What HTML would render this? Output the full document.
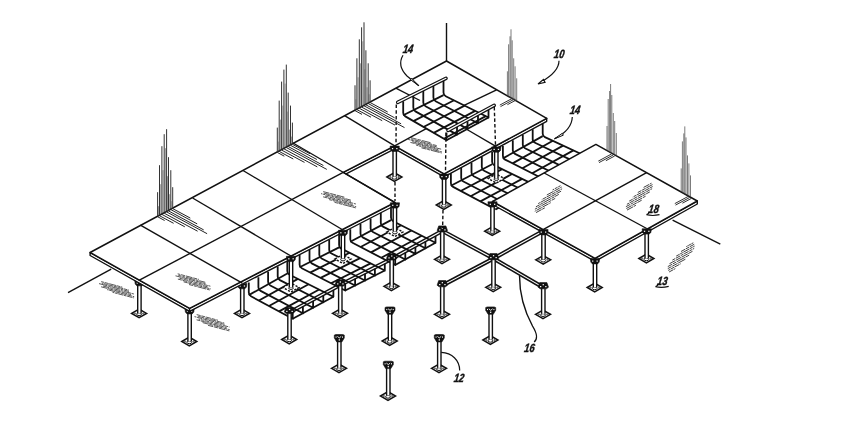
<!DOCTYPE html>
<html><head><meta charset="utf-8"><title>Fig</title><style>html,body{margin:0;padding:0;background:#fff}svg{display:block}svg{filter:grayscale(1)}</style></head><body>
<svg width="850" height="438" viewBox="0 0 850 438">
<rect width="850" height="438" fill="#fff"/>
<line x1="68" y1="292.6" x2="111.2" y2="269.1" stroke="#111" stroke-width="1.4"/>
<line x1="672.6" y1="220.2" x2="720.3" y2="244.2" stroke="#111" stroke-width="1.4"/>
<line x1="446.5" y1="23" x2="446.5" y2="61" stroke="#111" stroke-width="1.4"/>
<line x1="101.2" y1="281.6" x2="122.4" y2="287.2" stroke="#111" stroke-width="0.7" stroke-dasharray="7 0.6 4 0.6" stroke-dashoffset="3.9"/>
<line x1="101.8" y1="283.1" x2="128.8" y2="290.1" stroke="#111" stroke-width="0.7" stroke-dasharray="5 0.6 4 0.6" stroke-dashoffset="3.5"/>
<line x1="99" y1="283.6" x2="129" y2="291.4" stroke="#111" stroke-width="0.7" stroke-dasharray="9 0.6 3 0.6" stroke-dashoffset="0.5"/>
<line x1="103" y1="286" x2="133.9" y2="294" stroke="#111" stroke-width="0.7" stroke-dasharray="7 0.6 3 0.6" stroke-dashoffset="0.5"/>
<line x1="101.1" y1="286.8" x2="131.1" y2="294.6" stroke="#111" stroke-width="0.7" stroke-dasharray="7 0.6 6 0.6" stroke-dashoffset="0.7"/>
<line x1="107.1" y1="289.6" x2="134.2" y2="296.7" stroke="#111" stroke-width="0.7" stroke-dasharray="5 0.6 6 0.6" stroke-dashoffset="3.5"/>
<line x1="112.5" y1="292.3" x2="133.8" y2="297.9" stroke="#111" stroke-width="0.7" stroke-dasharray="5 0.6 3 0.6" stroke-dashoffset="3.3"/>
<line x1="196.7" y1="314.6" x2="217.9" y2="320.2" stroke="#111" stroke-width="0.7" stroke-dasharray="5 0.8 4 0.8" stroke-dashoffset="0.9"/>
<line x1="197.3" y1="316.1" x2="224.3" y2="323.1" stroke="#111" stroke-width="0.7" stroke-dasharray="5 0.8 6 0.8" stroke-dashoffset="4.9"/>
<line x1="194.5" y1="316.6" x2="224.5" y2="324.4" stroke="#111" stroke-width="0.7" stroke-dasharray="5 0.6 6 0.6" stroke-dashoffset="3.4"/>
<line x1="198.5" y1="319" x2="229.4" y2="327" stroke="#111" stroke-width="0.7" stroke-dasharray="5 0.8 3 0.8" stroke-dashoffset="3.3"/>
<line x1="196.6" y1="319.8" x2="226.6" y2="327.6" stroke="#111" stroke-width="0.7" stroke-dasharray="5 0.6 6 0.6" stroke-dashoffset="1.2"/>
<line x1="202.6" y1="322.6" x2="229.7" y2="329.7" stroke="#111" stroke-width="0.7" stroke-dasharray="9 0.8 4 0.8" stroke-dashoffset="2.8"/>
<line x1="208" y1="325.3" x2="229.3" y2="330.9" stroke="#111" stroke-width="0.7" stroke-dasharray="7 0.8 4 0.8" stroke-dashoffset="1.5"/>
<line x1="686.3" y1="246.6" x2="693.3" y2="242.8" stroke="#111" stroke-width="0.8" stroke-dasharray="5 0.6 3 0.6" stroke-dashoffset="3.4"/>
<line x1="681" y1="251.5" x2="694.2" y2="244.3" stroke="#111" stroke-width="0.8" stroke-dasharray="9 0.8 4 0.8" stroke-dashoffset="4.4"/>
<line x1="676.2" y1="256.1" x2="694.6" y2="246.1" stroke="#111" stroke-width="0.8" stroke-dasharray="7 0.6 3 0.6" stroke-dashoffset="3.1"/>
<line x1="672.2" y1="260.2" x2="694.2" y2="248.4" stroke="#111" stroke-width="0.8" stroke-dasharray="5 0.8 3 0.8" stroke-dashoffset="5.6"/>
<line x1="669.5" y1="263.7" x2="692.5" y2="251.3" stroke="#111" stroke-width="0.8" stroke-dasharray="7 0.6 6 0.6" stroke-dashoffset="0.5"/>
<line x1="667.8" y1="266.6" x2="689.8" y2="254.8" stroke="#111" stroke-width="0.8" stroke-dasharray="9 0.8 4 0.8" stroke-dashoffset="4.2"/>
<line x1="667.8" y1="268.6" x2="685.4" y2="259.2" stroke="#111" stroke-width="0.8" stroke-dasharray="9 0.8 6 0.8" stroke-dashoffset="4.8"/>
<line x1="668.2" y1="270.4" x2="680.6" y2="263.8" stroke="#111" stroke-width="0.8" stroke-dasharray="5 0.6 4 0.6" stroke-dashoffset="2.8"/>
<line x1="669.1" y1="272" x2="675.3" y2="268.6" stroke="#111" stroke-width="0.8" stroke-dasharray="9 0.6 3 0.6" stroke-dashoffset="4.4"/>
<polygon points="131.6,313.4 139.1,309.1 146.6,313.4 139.1,317.7" fill="#fff" stroke="#111" stroke-width="1.5"/>
<ellipse cx="139.1" cy="314.2" rx="2.4" ry="1.4" fill="#fff" stroke="#111" stroke-width="1"/>
<ellipse cx="134.9" cy="313.4" rx="0.8" ry="0.5" fill="#fff" stroke="#222" stroke-width="0.7"/>
<ellipse cx="143.3" cy="313.4" rx="0.8" ry="0.5" fill="#fff" stroke="#222" stroke-width="0.7"/>
<ellipse cx="139.1" cy="311" rx="0.8" ry="0.5" fill="#fff" stroke="#222" stroke-width="0.7"/>
<rect x="137.8" y="284.7" width="3.2" height="28.2" fill="#fff" stroke="none"/>
<line x1="137.7" y1="284.7" x2="137.7" y2="312.9" stroke="#111" stroke-width="1.4"/>
<line x1="141.1" y1="284.7" x2="141.1" y2="312.9" stroke="#111" stroke-width="1.4"/>
<polygon points="134.8,280.5 144,280.5 143.6,284 142,285.8 136.8,285.8 135.2,284" fill="#111" stroke="#111" stroke-width="0.6" stroke-linejoin="round"/>
<rect x="136.6" y="282.4" width="1.3" height="1.2" fill="#fff"/>
<rect x="140.8" y="282.4" width="1.3" height="1.2" fill="#fff"/>
<polygon points="181.8,341.5 189.3,337.2 196.8,341.5 189.3,345.8" fill="#fff" stroke="#111" stroke-width="1.5"/>
<ellipse cx="189.3" cy="342.3" rx="2.4" ry="1.4" fill="#fff" stroke="#111" stroke-width="1"/>
<ellipse cx="185.1" cy="341.5" rx="0.8" ry="0.5" fill="#fff" stroke="#222" stroke-width="0.7"/>
<ellipse cx="193.5" cy="341.5" rx="0.8" ry="0.5" fill="#fff" stroke="#222" stroke-width="0.7"/>
<ellipse cx="189.3" cy="339.1" rx="0.8" ry="0.5" fill="#fff" stroke="#222" stroke-width="0.7"/>
<rect x="188" y="312.8" width="3.2" height="28.2" fill="#fff" stroke="none"/>
<line x1="187.9" y1="312.8" x2="187.9" y2="341" stroke="#111" stroke-width="1.4"/>
<line x1="191.3" y1="312.8" x2="191.3" y2="341" stroke="#111" stroke-width="1.4"/>
<polygon points="185,308.6 194.2,308.6 193.8,312.1 192.2,313.9 187,313.9 185.4,312.1" fill="#111" stroke="#111" stroke-width="0.6" stroke-linejoin="round"/>
<rect x="186.8" y="310.5" width="1.3" height="1.2" fill="#fff"/>
<rect x="191" y="310.5" width="1.3" height="1.2" fill="#fff"/>
<polygon points="234.5,313.4 242,309.1 249.5,313.4 242,317.7" fill="#fff" stroke="#111" stroke-width="1.5"/>
<ellipse cx="242" cy="314.2" rx="2.4" ry="1.4" fill="#fff" stroke="#111" stroke-width="1"/>
<ellipse cx="237.8" cy="313.4" rx="0.8" ry="0.5" fill="#fff" stroke="#222" stroke-width="0.7"/>
<ellipse cx="246.2" cy="313.4" rx="0.8" ry="0.5" fill="#fff" stroke="#222" stroke-width="0.7"/>
<ellipse cx="242" cy="311" rx="0.8" ry="0.5" fill="#fff" stroke="#222" stroke-width="0.7"/>
<rect x="240.7" y="287.7" width="3.2" height="25.2" fill="#fff" stroke="none"/>
<line x1="240.6" y1="287.7" x2="240.6" y2="312.9" stroke="#111" stroke-width="1.4"/>
<line x1="244" y1="287.7" x2="244" y2="312.9" stroke="#111" stroke-width="1.4"/>
<polygon points="237.7,283.5 246.9,283.5 246.5,287 244.9,288.8 239.7,288.8 238.1,287" fill="#111" stroke="#111" stroke-width="0.6" stroke-linejoin="round"/>
<rect x="239.5" y="285.4" width="1.3" height="1.2" fill="#fff"/>
<rect x="243.8" y="285.4" width="1.3" height="1.2" fill="#fff"/>
<polygon points="90.1,252.5 189.6,308.3 189.6,311.3 90.1,255.5" fill="#fff" stroke="#111" stroke-width="1.4" stroke-linejoin="round"/>
<polygon points="189.6,308.3 394.9,202.5 394.9,205.5 189.6,311.3" fill="#fff" stroke="#111" stroke-width="1.4" stroke-linejoin="round"/>
<polygon points="343.2,172.3 394.7,145.8 394.7,148.8 343.2,175.3" fill="#fff" stroke="#111" stroke-width="1.4" stroke-linejoin="round"/>
<polygon points="394.7,145.8 444.1,173.8 444.1,176.8 394.7,148.8" fill="#fff" stroke="#111" stroke-width="1.4" stroke-linejoin="round"/>
<polygon points="444.1,173.8 546.7,118.3 546.7,121.3 444.1,176.8" fill="#fff" stroke="#111" stroke-width="1.4" stroke-linejoin="round"/>
<polygon points="90.1,252.5 446.5,61 546.7,118.3 444.1,173.8 394.7,145.8 343.2,172.3 394.9,202.5 189.6,308.3" fill="#fff" stroke="#111" stroke-width="1.5" stroke-linejoin="round"/>
<line x1="139.4" y1="280.2" x2="343.2" y2="172.3" stroke="#111" stroke-width="1.4"/>
<line x1="394.7" y1="145.8" x2="428.5" y2="127.3" stroke="#111" stroke-width="1.4"/>
<line x1="462" y1="106.3" x2="496.6" y2="89.8" stroke="#111" stroke-width="1.4"/>
<line x1="140.4" y1="225.2" x2="242.3" y2="283.2" stroke="#111" stroke-width="1.4"/>
<line x1="192.6" y1="198" x2="291" y2="256" stroke="#111" stroke-width="1.4"/>
<line x1="243" y1="170.5" x2="343" y2="230" stroke="#111" stroke-width="1.4"/>
<line x1="293" y1="143" x2="394.9" y2="202.5" stroke="#111" stroke-width="1.4"/>
<line x1="344.6" y1="115.7" x2="394.7" y2="145.8" stroke="#111" stroke-width="1.4"/>
<line x1="395.8" y1="88.2" x2="420" y2="100.5" stroke="#111" stroke-width="1.4"/>
<line x1="467" y1="129.5" x2="496.3" y2="146.6" stroke="#111" stroke-width="1.4"/>
<line x1="177.7" y1="273.8" x2="198.9" y2="279.4" stroke="#111" stroke-width="0.7" stroke-dasharray="7 0.8 4 0.8" stroke-dashoffset="4.3"/>
<line x1="178.3" y1="275.3" x2="205.3" y2="282.3" stroke="#111" stroke-width="0.7" stroke-dasharray="9 0.8 3 0.8" stroke-dashoffset="5.6"/>
<line x1="175.5" y1="275.8" x2="205.5" y2="283.6" stroke="#111" stroke-width="0.7" stroke-dasharray="7 0.6 6 0.6" stroke-dashoffset="0.7"/>
<line x1="179.5" y1="278.2" x2="210.4" y2="286.2" stroke="#111" stroke-width="0.7" stroke-dasharray="5 0.6 4 0.6" stroke-dashoffset="0.8"/>
<line x1="177.6" y1="279" x2="207.6" y2="286.8" stroke="#111" stroke-width="0.7" stroke-dasharray="5 0.8 4 0.8" stroke-dashoffset="5.5"/>
<line x1="183.6" y1="281.8" x2="210.7" y2="288.9" stroke="#111" stroke-width="0.7" stroke-dasharray="7 0.6 3 0.6" stroke-dashoffset="2.7"/>
<line x1="189" y1="284.5" x2="210.3" y2="290.1" stroke="#111" stroke-width="0.7" stroke-dasharray="9 0.8 3 0.8" stroke-dashoffset="4.9"/>
<line x1="323.2" y1="191.6" x2="344.4" y2="197.2" stroke="#111" stroke-width="0.7" stroke-dasharray="9 0.8 6 0.8" stroke-dashoffset="2.5"/>
<line x1="323.8" y1="193.1" x2="350.8" y2="200.1" stroke="#111" stroke-width="0.7" stroke-dasharray="7 0.8 3 0.8" stroke-dashoffset="0.9"/>
<line x1="321" y1="193.6" x2="351" y2="201.4" stroke="#111" stroke-width="0.7" stroke-dasharray="5 0.6 3 0.6" stroke-dashoffset="4"/>
<line x1="325" y1="196" x2="355.9" y2="204" stroke="#111" stroke-width="0.7" stroke-dasharray="5 0.8 6 0.8" stroke-dashoffset="1.1"/>
<line x1="323.1" y1="196.8" x2="353.1" y2="204.6" stroke="#111" stroke-width="0.7" stroke-dasharray="7 0.6 3 0.6" stroke-dashoffset="2.5"/>
<line x1="329.1" y1="199.6" x2="356.2" y2="206.7" stroke="#111" stroke-width="0.7" stroke-dasharray="7 0.8 3 0.8" stroke-dashoffset="4.1"/>
<line x1="334.5" y1="202.3" x2="355.8" y2="207.9" stroke="#111" stroke-width="0.7" stroke-dasharray="9 0.6 4 0.6" stroke-dashoffset="5.4"/>
<line x1="410.3" y1="137.5" x2="430.5" y2="142.7" stroke="#111" stroke-width="0.7" stroke-dasharray="9 0.8 4 0.8" stroke-dashoffset="2.4"/>
<line x1="411" y1="138.9" x2="436.7" y2="145.6" stroke="#111" stroke-width="0.7" stroke-dasharray="5 0.8 6 0.8" stroke-dashoffset="2.4"/>
<line x1="408.2" y1="139.4" x2="436.7" y2="146.8" stroke="#111" stroke-width="0.7" stroke-dasharray="5 0.6 3 0.6" stroke-dashoffset="2.6"/>
<line x1="412.2" y1="141.7" x2="441.6" y2="149.3" stroke="#111" stroke-width="0.7" stroke-dasharray="5 0.8 6 0.8" stroke-dashoffset="0.3"/>
<line x1="410.4" y1="142.4" x2="438.9" y2="149.8" stroke="#111" stroke-width="0.7" stroke-dasharray="5 0.6 6 0.6" stroke-dashoffset="0.6"/>
<line x1="416.2" y1="145.2" x2="441.9" y2="151.9" stroke="#111" stroke-width="0.7" stroke-dasharray="7 0.6 3 0.6" stroke-dashoffset="5.2"/>
<line x1="421.4" y1="147.8" x2="441.7" y2="153" stroke="#111" stroke-width="0.7" stroke-dasharray="9 0.8 3 0.8" stroke-dashoffset="3.8"/>
<polygon points="386.9,177 394.4,172.7 401.9,177 394.4,181.3" fill="#fff" stroke="#111" stroke-width="1.5"/>
<ellipse cx="394.4" cy="177.8" rx="2.4" ry="1.4" fill="#fff" stroke="#111" stroke-width="1"/>
<ellipse cx="390.2" cy="177" rx="0.8" ry="0.5" fill="#fff" stroke="#222" stroke-width="0.7"/>
<ellipse cx="398.6" cy="177" rx="0.8" ry="0.5" fill="#fff" stroke="#222" stroke-width="0.7"/>
<ellipse cx="394.4" cy="174.6" rx="0.8" ry="0.5" fill="#fff" stroke="#222" stroke-width="0.7"/>
<rect x="393.1" y="150.3" width="3.2" height="26.2" fill="#fff" stroke="none"/>
<line x1="393" y1="150.3" x2="393" y2="176.5" stroke="#111" stroke-width="1.4"/>
<line x1="396.4" y1="150.3" x2="396.4" y2="176.5" stroke="#111" stroke-width="1.4"/>
<polygon points="390.1,146.1 399.3,146.1 398.9,149.6 397.3,151.4 392.1,151.4 390.5,149.6" fill="#111" stroke="#111" stroke-width="0.6" stroke-linejoin="round"/>
<rect x="391.9" y="148" width="1.3" height="1.2" fill="#fff"/>
<rect x="396.2" y="148" width="1.3" height="1.2" fill="#fff"/>
<polygon points="436.3,205 443.8,200.7 451.3,205 443.8,209.3" fill="#fff" stroke="#111" stroke-width="1.5"/>
<ellipse cx="443.8" cy="205.8" rx="2.4" ry="1.4" fill="#fff" stroke="#111" stroke-width="1"/>
<ellipse cx="439.6" cy="205" rx="0.8" ry="0.5" fill="#fff" stroke="#222" stroke-width="0.7"/>
<ellipse cx="448" cy="205" rx="0.8" ry="0.5" fill="#fff" stroke="#222" stroke-width="0.7"/>
<ellipse cx="443.8" cy="202.6" rx="0.8" ry="0.5" fill="#fff" stroke="#222" stroke-width="0.7"/>
<rect x="442.5" y="178.3" width="3.2" height="26.2" fill="#fff" stroke="none"/>
<line x1="442.4" y1="178.3" x2="442.4" y2="204.5" stroke="#111" stroke-width="1.4"/>
<line x1="445.8" y1="178.3" x2="445.8" y2="204.5" stroke="#111" stroke-width="1.4"/>
<polygon points="439.5,174.1 448.7,174.1 448.3,177.6 446.7,179.4 441.5,179.4 439.9,177.6" fill="#111" stroke="#111" stroke-width="0.6" stroke-linejoin="round"/>
<rect x="441.3" y="176" width="1.3" height="1.2" fill="#fff"/>
<rect x="445.6" y="176" width="1.3" height="1.2" fill="#fff"/>
<path d="M248.8,282.6 L248.8,292.6 Q248.8,295.1 251,296.3 L292.7,318.8 L292.7,312.1" fill="none" stroke="#111" stroke-width="1.8" stroke-linejoin="round"/>
<path d="M258.4,277.2 L258.4,287.2 Q258.4,289.7 260.6,290.9 L302.9,313.3 L302.9,306.6" fill="none" stroke="#111" stroke-width="1.8" stroke-linejoin="round"/>
<path d="M268.1,271.8 L268.1,281.8 Q268.1,284.3 270.3,285.5 L313.1,307.7 L313.1,301" fill="none" stroke="#111" stroke-width="1.8" stroke-linejoin="round"/>
<path d="M277.7,266.4 L277.7,276.4 Q277.7,278.9 279.9,280.1 L323.3,302.2 L323.3,295.5" fill="none" stroke="#111" stroke-width="1.8" stroke-linejoin="round"/>
<path d="M287.3,261 L287.3,271 Q287.3,273.5 289.6,274.7 L333.4,296.7 L333.4,290" fill="none" stroke="#111" stroke-width="1.8" stroke-linejoin="round"/>
<line x1="248.8" y1="295.1" x2="287.3" y2="273.5" stroke="#111" stroke-width="1.8"/>
<line x1="258.9" y1="300.5" x2="297.9" y2="278.9" stroke="#111" stroke-width="1.8"/>
<line x1="269" y1="306" x2="308.6" y2="284.2" stroke="#111" stroke-width="1.8"/>
<line x1="279.1" y1="311.4" x2="319.2" y2="289.5" stroke="#111" stroke-width="1.8"/>
<line x1="292.7" y1="318.8" x2="333.4" y2="296.7" stroke="#111" stroke-width="1.8"/>
<line x1="289.5" y1="310.8" x2="340.3" y2="283.3" stroke="#111" stroke-width="1.5"/>
<line x1="289.5" y1="313.8" x2="340.3" y2="286.3" stroke="#111" stroke-width="1.5"/>
<path d="M299.6,254.7 L299.6,264.7 Q299.6,267.2 301.8,268.3 L345.2,290.5 L345.2,283.8" fill="none" stroke="#111" stroke-width="1.8" stroke-linejoin="round"/>
<path d="M309.5,249.8 L309.5,259.8 Q309.5,262.3 311.7,263.4 L355.1,285.5 L355.1,278.8" fill="none" stroke="#111" stroke-width="1.8" stroke-linejoin="round"/>
<path d="M319.3,244.8 L319.3,254.8 Q319.3,257.3 321.6,258.5 L365,280.5 L365,273.8" fill="none" stroke="#111" stroke-width="1.8" stroke-linejoin="round"/>
<path d="M329.2,239.9 L329.2,249.9 Q329.2,252.4 331.5,253.5 L374.9,275.5 L374.9,268.8" fill="none" stroke="#111" stroke-width="1.8" stroke-linejoin="round"/>
<path d="M339.1,234.9 L339.1,244.9 Q339.1,247.4 341.3,248.6 L384.8,270.5 L384.8,263.8" fill="none" stroke="#111" stroke-width="1.8" stroke-linejoin="round"/>
<line x1="299.6" y1="267.2" x2="339.1" y2="247.4" stroke="#111" stroke-width="1.8"/>
<line x1="310.1" y1="272.6" x2="349.6" y2="252.8" stroke="#111" stroke-width="1.8"/>
<line x1="320.6" y1="277.9" x2="360.1" y2="258.1" stroke="#111" stroke-width="1.8"/>
<line x1="331" y1="283.3" x2="370.6" y2="263.4" stroke="#111" stroke-width="1.8"/>
<line x1="345.2" y1="290.5" x2="384.8" y2="270.5" stroke="#111" stroke-width="1.8"/>
<line x1="340.3" y1="283.3" x2="391.7" y2="257.3" stroke="#111" stroke-width="1.5"/>
<line x1="340.3" y1="286.3" x2="391.7" y2="260.3" stroke="#111" stroke-width="1.5"/>
<path d="M350.3,229.2 L350.3,239.2 Q350.3,241.7 352.5,242.8 L395.2,265 L395.2,258.3" fill="none" stroke="#111" stroke-width="1.8" stroke-linejoin="round"/>
<path d="M360.5,223.8 L360.5,233.8 Q360.5,236.3 362.7,237.4 L405.3,259.5 L405.3,252.8" fill="none" stroke="#111" stroke-width="1.8" stroke-linejoin="round"/>
<path d="M370.6,218.4 L370.6,228.4 Q370.6,230.9 372.9,232 L415.4,253.9 L415.4,247.2" fill="none" stroke="#111" stroke-width="1.8" stroke-linejoin="round"/>
<path d="M380.8,213 L380.8,223 Q380.8,225.5 383,226.6 L425.4,248.3 L425.4,241.6" fill="none" stroke="#111" stroke-width="1.8" stroke-linejoin="round"/>
<path d="M391,207.6 L391,217.6 Q391,220.1 393.2,221.2 L435.5,242.8 L435.5,236.1" fill="none" stroke="#111" stroke-width="1.8" stroke-linejoin="round"/>
<line x1="350.3" y1="241.7" x2="391" y2="220.1" stroke="#111" stroke-width="1.8"/>
<line x1="360.6" y1="247" x2="401.2" y2="225.3" stroke="#111" stroke-width="1.8"/>
<line x1="371" y1="252.4" x2="411.5" y2="230.5" stroke="#111" stroke-width="1.8"/>
<line x1="381.3" y1="257.8" x2="421.7" y2="235.7" stroke="#111" stroke-width="1.8"/>
<line x1="395.2" y1="265" x2="435.5" y2="242.8" stroke="#111" stroke-width="1.8"/>
<line x1="391.7" y1="257.3" x2="442.3" y2="229.3" stroke="#111" stroke-width="1.5"/>
<line x1="391.7" y1="260.3" x2="442.3" y2="232.3" stroke="#111" stroke-width="1.5"/>
<path d="M450.9,173.3 L450.9,183.3 Q450.9,185.8 453.1,186.9 L495.6,209.5" fill="none" stroke="#111" stroke-width="1.8" stroke-linejoin="round"/>
<path d="M461.2,167.9 L461.2,177.9 Q461.2,180.4 463.4,181.5 L506.1,203.7" fill="none" stroke="#111" stroke-width="1.8" stroke-linejoin="round"/>
<path d="M471.5,162.5 L471.5,172.5 Q471.5,175 473.7,176.2 L516.5,197.9" fill="none" stroke="#111" stroke-width="1.8" stroke-linejoin="round"/>
<path d="M481.8,157.1 L481.8,167.1 Q481.8,169.6 484.1,170.8 L527,192.2" fill="none" stroke="#111" stroke-width="1.8" stroke-linejoin="round"/>
<path d="M492.1,151.8 L492.1,161.8 Q492.1,164.3 494.4,165.4 L537.5,186.4" fill="none" stroke="#111" stroke-width="1.8" stroke-linejoin="round"/>
<line x1="450.9" y1="185.8" x2="492.1" y2="164.3" stroke="#111" stroke-width="1.8"/>
<line x1="460.7" y1="191" x2="502.1" y2="169.1" stroke="#111" stroke-width="1.8"/>
<line x1="470.6" y1="196.2" x2="512.1" y2="174" stroke="#111" stroke-width="1.8"/>
<line x1="480.4" y1="201.4" x2="522.1" y2="178.9" stroke="#111" stroke-width="1.8"/>
<line x1="490.2" y1="206.6" x2="532" y2="183.7" stroke="#111" stroke-width="1.8"/>
<line x1="495.6" y1="209.5" x2="537.5" y2="186.4" stroke="#111" stroke-width="1.8"/>
<path d="M502.9,145.9 L502.9,155.9 Q502.9,158.4 505.1,159.6 L547.3,181" fill="none" stroke="#111" stroke-width="1.8" stroke-linejoin="round"/>
<path d="M512.8,140.3 L512.8,150.3 Q512.8,152.8 515,153.9 L557.8,175.2" fill="none" stroke="#111" stroke-width="1.8" stroke-linejoin="round"/>
<path d="M522.8,134.7 L522.8,144.7 Q522.8,147.2 525,148.3 L568.2,169.4" fill="none" stroke="#111" stroke-width="1.8" stroke-linejoin="round"/>
<path d="M532.7,129.2 L532.7,139.2 Q532.7,141.7 535,142.7 L578.7,163.6" fill="none" stroke="#111" stroke-width="1.8" stroke-linejoin="round"/>
<path d="M542.7,123.6 L542.7,133.6 Q542.7,136.1 544.9,137.1 L589.2,157.8" fill="none" stroke="#111" stroke-width="1.8" stroke-linejoin="round"/>
<line x1="502.9" y1="158.4" x2="542.7" y2="136.1" stroke="#111" stroke-width="1.8"/>
<line x1="512.6" y1="163.4" x2="552.9" y2="140.8" stroke="#111" stroke-width="1.8"/>
<line x1="522.4" y1="168.3" x2="563.1" y2="145.6" stroke="#111" stroke-width="1.8"/>
<line x1="532.2" y1="173.3" x2="573.4" y2="150.4" stroke="#111" stroke-width="1.8"/>
<line x1="542" y1="178.3" x2="583.6" y2="155.2" stroke="#111" stroke-width="1.8"/>
<line x1="547.3" y1="181" x2="589.2" y2="157.8" stroke="#111" stroke-width="1.8"/>
<polygon points="283,287.5 291,283 299,287.5 291,292" fill="#fff" stroke="#111" stroke-width="1.4" stroke-dasharray="2.2 1.4"/>
<ellipse cx="291" cy="288.1" rx="2.3" ry="1.3" fill="#fff" stroke="#111" stroke-width="1"/>
<rect x="289.4" y="260.5" width="3.2" height="26.5" fill="#fff" stroke="none"/>
<line x1="289.3" y1="260.5" x2="289.3" y2="287" stroke="#111" stroke-width="1.4"/>
<line x1="292.7" y1="260.5" x2="292.7" y2="287" stroke="#111" stroke-width="1.4"/>
<polygon points="286.4,256.3 295.6,256.3 295.2,259.8 293.6,261.6 288.4,261.6 286.8,259.8" fill="#111" stroke="#111" stroke-width="0.6" stroke-linejoin="round"/>
<rect x="288.2" y="258.2" width="1.3" height="1.2" fill="#fff"/>
<rect x="292.5" y="258.2" width="1.3" height="1.2" fill="#fff"/>
<polygon points="335,259 343,254.5 351,259 343,263.5" fill="#fff" stroke="#111" stroke-width="1.4" stroke-dasharray="2.2 1.4"/>
<ellipse cx="343" cy="259.6" rx="2.3" ry="1.3" fill="#fff" stroke="#111" stroke-width="1"/>
<rect x="341.4" y="234.5" width="3.2" height="24" fill="#fff" stroke="none"/>
<line x1="341.3" y1="234.5" x2="341.3" y2="258.5" stroke="#111" stroke-width="1.4"/>
<line x1="344.7" y1="234.5" x2="344.7" y2="258.5" stroke="#111" stroke-width="1.4"/>
<polygon points="338.4,230.3 347.6,230.3 347.2,233.8 345.6,235.6 340.4,235.6 338.8,233.8" fill="#111" stroke="#111" stroke-width="0.6" stroke-linejoin="round"/>
<rect x="340.2" y="232.2" width="1.3" height="1.2" fill="#fff"/>
<rect x="344.5" y="232.2" width="1.3" height="1.2" fill="#fff"/>
<polygon points="386.9,232 394.9,227.5 402.9,232 394.9,236.5" fill="#fff" stroke="#111" stroke-width="1.4" stroke-dasharray="2.2 1.4"/>
<ellipse cx="394.9" cy="232.6" rx="2.3" ry="1.3" fill="#fff" stroke="#111" stroke-width="1"/>
<rect x="393.3" y="207" width="3.2" height="24.5" fill="#fff" stroke="none"/>
<line x1="393.2" y1="207" x2="393.2" y2="231.5" stroke="#111" stroke-width="1.4"/>
<line x1="396.6" y1="207" x2="396.6" y2="231.5" stroke="#111" stroke-width="1.4"/>
<polygon points="390.3,202.8 399.5,202.8 399.1,206.3 397.5,208.1 392.3,208.1 390.7,206.3" fill="#111" stroke="#111" stroke-width="0.6" stroke-linejoin="round"/>
<rect x="392.1" y="204.7" width="1.3" height="1.2" fill="#fff"/>
<rect x="396.4" y="204.7" width="1.3" height="1.2" fill="#fff"/>
<polygon points="488.3,178.5 496.3,174 504.3,178.5 496.3,183" fill="#fff" stroke="#111" stroke-width="1.4" stroke-dasharray="2.2 1.4"/>
<ellipse cx="496.3" cy="179.1" rx="2.3" ry="1.3" fill="#fff" stroke="#111" stroke-width="1"/>
<rect x="494.7" y="151.1" width="3.2" height="26.9" fill="#fff" stroke="none"/>
<line x1="494.6" y1="151.1" x2="494.6" y2="178" stroke="#111" stroke-width="1.4"/>
<line x1="498" y1="151.1" x2="498" y2="178" stroke="#111" stroke-width="1.4"/>
<polygon points="491.7,146.9 500.9,146.9 500.5,150.4 498.9,152.2 493.7,152.2 492.1,150.4" fill="#111" stroke="#111" stroke-width="0.6" stroke-linejoin="round"/>
<rect x="493.5" y="148.8" width="1.3" height="1.2" fill="#fff"/>
<rect x="497.8" y="148.8" width="1.3" height="1.2" fill="#fff"/>
<polygon points="492.5,201.5 595,258.3 595,261.3 492.5,204.5" fill="#fff" stroke="#111" stroke-width="1.4" stroke-linejoin="round"/>
<polygon points="595,258.3 697.3,201 697.3,204 595,261.3" fill="#fff" stroke="#111" stroke-width="1.4" stroke-linejoin="round"/>
<polygon points="492.5,201.5 595.9,144.4 697.3,201 595,258.3" fill="#fff" stroke="#111" stroke-width="1.5" stroke-linejoin="round"/>
<line x1="544.2" y1="173" x2="646.7" y2="228.5" stroke="#111" stroke-width="1.4"/>
<line x1="543.5" y1="229.3" x2="646.6" y2="172.7" stroke="#111" stroke-width="1.4"/>
<line x1="643.6" y1="187.4" x2="651.5" y2="183.2" stroke="#111" stroke-width="0.8" stroke-dasharray="7 0.8 4 0.8" stroke-dashoffset="0.7"/>
<line x1="637.8" y1="192.5" x2="652.7" y2="184.5" stroke="#111" stroke-width="0.8" stroke-dasharray="7 0.8 4 0.8" stroke-dashoffset="2.9"/>
<line x1="632.8" y1="197.1" x2="653.1" y2="186.3" stroke="#111" stroke-width="0.8" stroke-dasharray="5 0.6 3 0.6" stroke-dashoffset="4.5"/>
<line x1="629.2" y1="201.1" x2="652.1" y2="188.7" stroke="#111" stroke-width="0.8" stroke-dasharray="9 0.8 4 0.8" stroke-dashoffset="5"/>
<line x1="626.9" y1="204.3" x2="649.8" y2="191.9" stroke="#111" stroke-width="0.8" stroke-dasharray="5 0.6 3 0.6" stroke-dashoffset="5.7"/>
<line x1="625.9" y1="206.7" x2="646.2" y2="195.9" stroke="#111" stroke-width="0.8" stroke-dasharray="9 0.8 3 0.8" stroke-dashoffset="4.1"/>
<line x1="625.8" y1="208.8" x2="641.7" y2="200.2" stroke="#111" stroke-width="0.8" stroke-dasharray="5 0.8 6 0.8" stroke-dashoffset="5.2"/>
<line x1="627" y1="210.1" x2="635.9" y2="205.3" stroke="#111" stroke-width="0.8" stroke-dasharray="9 0.8 6 0.8" stroke-dashoffset="2.2"/>
<line x1="552.6" y1="189.9" x2="560.5" y2="185.7" stroke="#111" stroke-width="0.8" stroke-dasharray="5 0.8 3 0.8" stroke-dashoffset="3.2"/>
<line x1="546.8" y1="195" x2="561.7" y2="187" stroke="#111" stroke-width="0.8" stroke-dasharray="9 0.8 6 0.8" stroke-dashoffset="1.3"/>
<line x1="541.8" y1="199.6" x2="562.1" y2="188.8" stroke="#111" stroke-width="0.8" stroke-dasharray="5 0.6 4 0.6" stroke-dashoffset="4.4"/>
<line x1="538.2" y1="203.6" x2="561.1" y2="191.2" stroke="#111" stroke-width="0.8" stroke-dasharray="5 0.6 6 0.6" stroke-dashoffset="3"/>
<line x1="535.9" y1="206.8" x2="558.8" y2="194.4" stroke="#111" stroke-width="0.8" stroke-dasharray="9 0.6 3 0.6" stroke-dashoffset="4.7"/>
<line x1="534.9" y1="209.2" x2="555.2" y2="198.4" stroke="#111" stroke-width="0.8" stroke-dasharray="7 0.8 3 0.8" stroke-dashoffset="4.2"/>
<line x1="534.8" y1="211.3" x2="550.7" y2="202.7" stroke="#111" stroke-width="0.8" stroke-dasharray="7 0.8 6 0.8" stroke-dashoffset="5.9"/>
<line x1="536" y1="212.6" x2="544.9" y2="207.8" stroke="#111" stroke-width="0.8" stroke-dasharray="7 0.6 3 0.6" stroke-dashoffset="0.6"/>
<line x1="442.3" y1="229.3" x2="493.5" y2="257" stroke="#111" stroke-width="1.5"/>
<line x1="442.3" y1="232.3" x2="493.5" y2="260" stroke="#111" stroke-width="1.5"/>
<line x1="493.5" y1="257" x2="543.3" y2="286" stroke="#111" stroke-width="1.5"/>
<line x1="493.5" y1="260" x2="543.3" y2="289" stroke="#111" stroke-width="1.5"/>
<line x1="442.3" y1="284" x2="493.5" y2="257" stroke="#111" stroke-width="1.5"/>
<line x1="442.3" y1="287" x2="493.5" y2="260" stroke="#111" stroke-width="1.5"/>
<line x1="493.5" y1="257" x2="543.5" y2="229.3" stroke="#111" stroke-width="1.5"/>
<line x1="493.5" y1="260" x2="543.5" y2="232.3" stroke="#111" stroke-width="1.5"/>
<polygon points="484.7,231.2 492.2,226.9 499.7,231.2 492.2,235.5" fill="#fff" stroke="#111" stroke-width="1.5"/>
<ellipse cx="492.2" cy="232" rx="2.4" ry="1.4" fill="#fff" stroke="#111" stroke-width="1"/>
<ellipse cx="488" cy="231.2" rx="0.8" ry="0.5" fill="#fff" stroke="#222" stroke-width="0.7"/>
<ellipse cx="496.4" cy="231.2" rx="0.8" ry="0.5" fill="#fff" stroke="#222" stroke-width="0.7"/>
<ellipse cx="492.2" cy="228.8" rx="0.8" ry="0.5" fill="#fff" stroke="#222" stroke-width="0.7"/>
<rect x="490.9" y="206" width="3.2" height="24.7" fill="#fff" stroke="none"/>
<line x1="490.8" y1="206" x2="490.8" y2="230.7" stroke="#111" stroke-width="1.4"/>
<line x1="494.2" y1="206" x2="494.2" y2="230.7" stroke="#111" stroke-width="1.4"/>
<polygon points="487.9,201.8 497.1,201.8 496.7,205.3 495.1,207.1 489.9,207.1 488.3,205.3" fill="#111" stroke="#111" stroke-width="0.6" stroke-linejoin="round"/>
<rect x="489.7" y="203.7" width="1.3" height="1.2" fill="#fff"/>
<rect x="494" y="203.7" width="1.3" height="1.2" fill="#fff"/>
<polygon points="535.7,259.8 543.2,255.5 550.7,259.8 543.2,264.1" fill="#fff" stroke="#111" stroke-width="1.5"/>
<ellipse cx="543.2" cy="260.6" rx="2.4" ry="1.4" fill="#fff" stroke="#111" stroke-width="1"/>
<ellipse cx="539" cy="259.8" rx="0.8" ry="0.5" fill="#fff" stroke="#222" stroke-width="0.7"/>
<ellipse cx="547.4" cy="259.8" rx="0.8" ry="0.5" fill="#fff" stroke="#222" stroke-width="0.7"/>
<ellipse cx="543.2" cy="257.4" rx="0.8" ry="0.5" fill="#fff" stroke="#222" stroke-width="0.7"/>
<rect x="541.9" y="233.8" width="3.2" height="25.5" fill="#fff" stroke="none"/>
<line x1="541.8" y1="233.8" x2="541.8" y2="259.3" stroke="#111" stroke-width="1.4"/>
<line x1="545.2" y1="233.8" x2="545.2" y2="259.3" stroke="#111" stroke-width="1.4"/>
<polygon points="538.9,229.6 548.1,229.6 547.7,233.1 546.1,234.9 540.9,234.9 539.3,233.1" fill="#111" stroke="#111" stroke-width="0.6" stroke-linejoin="round"/>
<rect x="540.6" y="231.5" width="1.3" height="1.2" fill="#fff"/>
<rect x="545" y="231.5" width="1.3" height="1.2" fill="#fff"/>
<polygon points="587.2,287.5 594.7,283.2 602.2,287.5 594.7,291.8" fill="#fff" stroke="#111" stroke-width="1.5"/>
<ellipse cx="594.7" cy="288.3" rx="2.4" ry="1.4" fill="#fff" stroke="#111" stroke-width="1"/>
<ellipse cx="590.5" cy="287.5" rx="0.8" ry="0.5" fill="#fff" stroke="#222" stroke-width="0.7"/>
<ellipse cx="598.9" cy="287.5" rx="0.8" ry="0.5" fill="#fff" stroke="#222" stroke-width="0.7"/>
<ellipse cx="594.7" cy="285.1" rx="0.8" ry="0.5" fill="#fff" stroke="#222" stroke-width="0.7"/>
<rect x="593.4" y="262.8" width="3.2" height="24.2" fill="#fff" stroke="none"/>
<line x1="593.3" y1="262.8" x2="593.3" y2="287" stroke="#111" stroke-width="1.4"/>
<line x1="596.7" y1="262.8" x2="596.7" y2="287" stroke="#111" stroke-width="1.4"/>
<polygon points="590.4,258.6 599.6,258.6 599.2,262.1 597.6,263.9 592.4,263.9 590.8,262.1" fill="#111" stroke="#111" stroke-width="0.6" stroke-linejoin="round"/>
<rect x="592.1" y="260.5" width="1.3" height="1.2" fill="#fff"/>
<rect x="596.5" y="260.5" width="1.3" height="1.2" fill="#fff"/>
<polygon points="638.9,258.5 646.4,254.2 653.9,258.5 646.4,262.8" fill="#fff" stroke="#111" stroke-width="1.5"/>
<ellipse cx="646.4" cy="259.3" rx="2.4" ry="1.4" fill="#fff" stroke="#111" stroke-width="1"/>
<ellipse cx="642.2" cy="258.5" rx="0.8" ry="0.5" fill="#fff" stroke="#222" stroke-width="0.7"/>
<ellipse cx="650.6" cy="258.5" rx="0.8" ry="0.5" fill="#fff" stroke="#222" stroke-width="0.7"/>
<ellipse cx="646.4" cy="256.1" rx="0.8" ry="0.5" fill="#fff" stroke="#222" stroke-width="0.7"/>
<rect x="645.1" y="233" width="3.2" height="25" fill="#fff" stroke="none"/>
<line x1="645" y1="233" x2="645" y2="258" stroke="#111" stroke-width="1.4"/>
<line x1="648.4" y1="233" x2="648.4" y2="258" stroke="#111" stroke-width="1.4"/>
<polygon points="642.1,228.8 651.3,228.8 650.9,232.3 649.3,234.1 644.1,234.1 642.5,232.3" fill="#111" stroke="#111" stroke-width="0.6" stroke-linejoin="round"/>
<rect x="643.9" y="230.7" width="1.3" height="1.2" fill="#fff"/>
<rect x="648.2" y="230.7" width="1.3" height="1.2" fill="#fff"/>
<polygon points="281.7,339.5 289.2,335.2 296.7,339.5 289.2,343.8" fill="#fff" stroke="#111" stroke-width="1.5"/>
<ellipse cx="289.2" cy="340.3" rx="2.4" ry="1.4" fill="#fff" stroke="#111" stroke-width="1"/>
<ellipse cx="285" cy="339.5" rx="0.8" ry="0.5" fill="#fff" stroke="#222" stroke-width="0.7"/>
<ellipse cx="293.4" cy="339.5" rx="0.8" ry="0.5" fill="#fff" stroke="#222" stroke-width="0.7"/>
<ellipse cx="289.2" cy="337.1" rx="0.8" ry="0.5" fill="#fff" stroke="#222" stroke-width="0.7"/>
<rect x="287.9" y="313.3" width="3.2" height="25.7" fill="#fff" stroke="none"/>
<line x1="287.8" y1="313.3" x2="287.8" y2="339" stroke="#111" stroke-width="1.4"/>
<line x1="291.2" y1="313.3" x2="291.2" y2="339" stroke="#111" stroke-width="1.4"/>
<polygon points="284.3,312 285.9,307.4 293.1,307.4 294.7,312 292.7,313.6 286.3,313.6" fill="#111" stroke="#111" stroke-width="0.6" stroke-linejoin="round"/>
<rect x="286.2" y="310.8" width="1.3" height="1.2" fill="#fff"/>
<rect x="288.9" y="308.9" width="1.3" height="1.2" fill="#fff"/>
<rect x="291.5" y="310.8" width="1.3" height="1.2" fill="#fff"/>
<polygon points="332.5,313.3 340,309 347.5,313.3 340,317.6" fill="#fff" stroke="#111" stroke-width="1.5"/>
<ellipse cx="340" cy="314.1" rx="2.4" ry="1.4" fill="#fff" stroke="#111" stroke-width="1"/>
<ellipse cx="335.8" cy="313.3" rx="0.8" ry="0.5" fill="#fff" stroke="#222" stroke-width="0.7"/>
<ellipse cx="344.2" cy="313.3" rx="0.8" ry="0.5" fill="#fff" stroke="#222" stroke-width="0.7"/>
<ellipse cx="340" cy="310.9" rx="0.8" ry="0.5" fill="#fff" stroke="#222" stroke-width="0.7"/>
<rect x="338.7" y="285.8" width="3.2" height="27" fill="#fff" stroke="none"/>
<line x1="338.6" y1="285.8" x2="338.6" y2="312.8" stroke="#111" stroke-width="1.4"/>
<line x1="342" y1="285.8" x2="342" y2="312.8" stroke="#111" stroke-width="1.4"/>
<polygon points="335.1,284.5 336.7,279.9 343.9,279.9 345.5,284.5 343.5,286.1 337.1,286.1" fill="#111" stroke="#111" stroke-width="0.6" stroke-linejoin="round"/>
<rect x="337.1" y="283.3" width="1.3" height="1.2" fill="#fff"/>
<rect x="339.7" y="281.4" width="1.3" height="1.2" fill="#fff"/>
<rect x="342.3" y="283.3" width="1.3" height="1.2" fill="#fff"/>
<polygon points="383.9,286.3 391.4,282 398.9,286.3 391.4,290.6" fill="#fff" stroke="#111" stroke-width="1.5"/>
<ellipse cx="391.4" cy="287.1" rx="2.4" ry="1.4" fill="#fff" stroke="#111" stroke-width="1"/>
<ellipse cx="387.2" cy="286.3" rx="0.8" ry="0.5" fill="#fff" stroke="#222" stroke-width="0.7"/>
<ellipse cx="395.6" cy="286.3" rx="0.8" ry="0.5" fill="#fff" stroke="#222" stroke-width="0.7"/>
<ellipse cx="391.4" cy="283.9" rx="0.8" ry="0.5" fill="#fff" stroke="#222" stroke-width="0.7"/>
<rect x="390.1" y="259.8" width="3.2" height="26" fill="#fff" stroke="none"/>
<line x1="390" y1="259.8" x2="390" y2="285.8" stroke="#111" stroke-width="1.4"/>
<line x1="393.4" y1="259.8" x2="393.4" y2="285.8" stroke="#111" stroke-width="1.4"/>
<polygon points="386.5,258.5 388.1,253.9 395.3,253.9 396.9,258.5 394.9,260.1 388.5,260.1" fill="#111" stroke="#111" stroke-width="0.6" stroke-linejoin="round"/>
<rect x="388.4" y="257.3" width="1.3" height="1.2" fill="#fff"/>
<rect x="391.1" y="255.4" width="1.3" height="1.2" fill="#fff"/>
<rect x="393.7" y="257.3" width="1.3" height="1.2" fill="#fff"/>
<polygon points="434.5,259.3 442,255 449.5,259.3 442,263.6" fill="#fff" stroke="#111" stroke-width="1.5"/>
<ellipse cx="442" cy="260.1" rx="2.4" ry="1.4" fill="#fff" stroke="#111" stroke-width="1"/>
<ellipse cx="437.8" cy="259.3" rx="0.8" ry="0.5" fill="#fff" stroke="#222" stroke-width="0.7"/>
<ellipse cx="446.2" cy="259.3" rx="0.8" ry="0.5" fill="#fff" stroke="#222" stroke-width="0.7"/>
<ellipse cx="442" cy="256.9" rx="0.8" ry="0.5" fill="#fff" stroke="#222" stroke-width="0.7"/>
<rect x="440.7" y="231.8" width="3.2" height="27" fill="#fff" stroke="none"/>
<line x1="440.6" y1="231.8" x2="440.6" y2="258.8" stroke="#111" stroke-width="1.4"/>
<line x1="444" y1="231.8" x2="444" y2="258.8" stroke="#111" stroke-width="1.4"/>
<polygon points="437.1,230.5 438.7,225.9 445.9,225.9 447.5,230.5 445.5,232.1 439.1,232.1" fill="#111" stroke="#111" stroke-width="0.6" stroke-linejoin="round"/>
<rect x="439.1" y="229.3" width="1.3" height="1.2" fill="#fff"/>
<rect x="441.7" y="227.4" width="1.3" height="1.2" fill="#fff"/>
<rect x="444.3" y="229.3" width="1.3" height="1.2" fill="#fff"/>
<polygon points="434.5,314.3 442,310 449.5,314.3 442,318.6" fill="#fff" stroke="#111" stroke-width="1.5"/>
<ellipse cx="442" cy="315.1" rx="2.4" ry="1.4" fill="#fff" stroke="#111" stroke-width="1"/>
<ellipse cx="437.8" cy="314.3" rx="0.8" ry="0.5" fill="#fff" stroke="#222" stroke-width="0.7"/>
<ellipse cx="446.2" cy="314.3" rx="0.8" ry="0.5" fill="#fff" stroke="#222" stroke-width="0.7"/>
<ellipse cx="442" cy="311.9" rx="0.8" ry="0.5" fill="#fff" stroke="#222" stroke-width="0.7"/>
<rect x="440.7" y="286.5" width="3.2" height="27.3" fill="#fff" stroke="none"/>
<line x1="440.6" y1="286.5" x2="440.6" y2="313.8" stroke="#111" stroke-width="1.4"/>
<line x1="444" y1="286.5" x2="444" y2="313.8" stroke="#111" stroke-width="1.4"/>
<polygon points="437.1,285.2 438.7,280.6 445.9,280.6 447.5,285.2 445.5,286.8 439.1,286.8" fill="#111" stroke="#111" stroke-width="0.6" stroke-linejoin="round"/>
<rect x="439.1" y="284" width="1.3" height="1.2" fill="#fff"/>
<rect x="441.7" y="282.1" width="1.3" height="1.2" fill="#fff"/>
<rect x="444.3" y="284" width="1.3" height="1.2" fill="#fff"/>
<polygon points="485.7,287.3 493.2,283 500.7,287.3 493.2,291.6" fill="#fff" stroke="#111" stroke-width="1.5"/>
<ellipse cx="493.2" cy="288.1" rx="2.4" ry="1.4" fill="#fff" stroke="#111" stroke-width="1"/>
<ellipse cx="489" cy="287.3" rx="0.8" ry="0.5" fill="#fff" stroke="#222" stroke-width="0.7"/>
<ellipse cx="497.4" cy="287.3" rx="0.8" ry="0.5" fill="#fff" stroke="#222" stroke-width="0.7"/>
<ellipse cx="493.2" cy="284.9" rx="0.8" ry="0.5" fill="#fff" stroke="#222" stroke-width="0.7"/>
<rect x="491.9" y="259.5" width="3.2" height="27.3" fill="#fff" stroke="none"/>
<line x1="491.8" y1="259.5" x2="491.8" y2="286.8" stroke="#111" stroke-width="1.4"/>
<line x1="495.2" y1="259.5" x2="495.2" y2="286.8" stroke="#111" stroke-width="1.4"/>
<polygon points="488.3,258.2 489.9,253.6 497.1,253.6 498.7,258.2 496.7,259.8 490.3,259.8" fill="#111" stroke="#111" stroke-width="0.6" stroke-linejoin="round"/>
<rect x="490.2" y="257" width="1.3" height="1.2" fill="#fff"/>
<rect x="492.9" y="255.1" width="1.3" height="1.2" fill="#fff"/>
<rect x="495.5" y="257" width="1.3" height="1.2" fill="#fff"/>
<polygon points="535.5,314.3 543,310 550.5,314.3 543,318.6" fill="#fff" stroke="#111" stroke-width="1.5"/>
<ellipse cx="543" cy="315.1" rx="2.4" ry="1.4" fill="#fff" stroke="#111" stroke-width="1"/>
<ellipse cx="538.8" cy="314.3" rx="0.8" ry="0.5" fill="#fff" stroke="#222" stroke-width="0.7"/>
<ellipse cx="547.2" cy="314.3" rx="0.8" ry="0.5" fill="#fff" stroke="#222" stroke-width="0.7"/>
<ellipse cx="543" cy="311.9" rx="0.8" ry="0.5" fill="#fff" stroke="#222" stroke-width="0.7"/>
<rect x="541.7" y="288.5" width="3.2" height="25.3" fill="#fff" stroke="none"/>
<line x1="541.6" y1="288.5" x2="541.6" y2="313.8" stroke="#111" stroke-width="1.4"/>
<line x1="545" y1="288.5" x2="545" y2="313.8" stroke="#111" stroke-width="1.4"/>
<polygon points="538.1,287.2 539.7,282.6 546.9,282.6 548.5,287.2 546.5,288.8 540.1,288.8" fill="#111" stroke="#111" stroke-width="0.6" stroke-linejoin="round"/>
<rect x="540" y="286" width="1.3" height="1.2" fill="#fff"/>
<rect x="542.6" y="284.1" width="1.3" height="1.2" fill="#fff"/>
<rect x="545.2" y="286" width="1.3" height="1.2" fill="#fff"/>
<polygon points="382.2,341 389.7,336.7 397.2,341 389.7,345.3" fill="#fff" stroke="#111" stroke-width="1.5"/>
<ellipse cx="389.7" cy="341.8" rx="2.4" ry="1.4" fill="#fff" stroke="#111" stroke-width="1"/>
<ellipse cx="385.5" cy="341" rx="0.8" ry="0.5" fill="#fff" stroke="#222" stroke-width="0.7"/>
<ellipse cx="393.9" cy="341" rx="0.8" ry="0.5" fill="#fff" stroke="#222" stroke-width="0.7"/>
<ellipse cx="389.7" cy="338.6" rx="0.8" ry="0.5" fill="#fff" stroke="#222" stroke-width="0.7"/>
<rect x="388.4" y="313.7" width="3.2" height="26.8" fill="#fff" stroke="none"/>
<line x1="388.3" y1="313.7" x2="388.3" y2="340.5" stroke="#111" stroke-width="1.4"/>
<line x1="391.7" y1="313.7" x2="391.7" y2="340.5" stroke="#111" stroke-width="1.4"/>
<polygon points="385,307.5 386.6,306.9 393.4,306.9 395,307.5 395,310.3 392.6,314.3 387.4,314.3 385,310.3" fill="#111" stroke="#111" stroke-width="0.6" stroke-linejoin="round"/>
<path d="M388.1 308.8 l1.9 1.5 l1.9 -1.5" stroke="#fff" stroke-width="0.9" fill="none"/>
<rect x="386.3" y="308.9" width="1" height="1.2" fill="#fff"/>
<rect x="392.7" y="308.9" width="1" height="1.2" fill="#fff"/>
<rect x="389.4" y="311.6" width="1.2" height="1.4" fill="#fff"/>
<polygon points="482.9,340 490.4,335.7 497.9,340 490.4,344.3" fill="#fff" stroke="#111" stroke-width="1.5"/>
<ellipse cx="490.4" cy="340.8" rx="2.4" ry="1.4" fill="#fff" stroke="#111" stroke-width="1"/>
<ellipse cx="486.2" cy="340" rx="0.8" ry="0.5" fill="#fff" stroke="#222" stroke-width="0.7"/>
<ellipse cx="494.6" cy="340" rx="0.8" ry="0.5" fill="#fff" stroke="#222" stroke-width="0.7"/>
<ellipse cx="490.4" cy="337.6" rx="0.8" ry="0.5" fill="#fff" stroke="#222" stroke-width="0.7"/>
<rect x="489.1" y="313.7" width="3.2" height="25.8" fill="#fff" stroke="none"/>
<line x1="489" y1="313.7" x2="489" y2="339.5" stroke="#111" stroke-width="1.4"/>
<line x1="492.4" y1="313.7" x2="492.4" y2="339.5" stroke="#111" stroke-width="1.4"/>
<polygon points="485.7,307.5 487.3,306.9 494.1,306.9 495.7,307.5 495.7,310.3 493.3,314.3 488.1,314.3 485.7,310.3" fill="#111" stroke="#111" stroke-width="0.6" stroke-linejoin="round"/>
<path d="M488.8 308.8 l1.9 1.5 l1.9 -1.5" stroke="#fff" stroke-width="0.9" fill="none"/>
<rect x="487" y="308.9" width="1" height="1.2" fill="#fff"/>
<rect x="493.4" y="308.9" width="1" height="1.2" fill="#fff"/>
<rect x="490.1" y="311.6" width="1.2" height="1.4" fill="#fff"/>
<polygon points="331.5,368.3 339,364 346.5,368.3 339,372.6" fill="#fff" stroke="#111" stroke-width="1.5"/>
<ellipse cx="339" cy="369.1" rx="2.4" ry="1.4" fill="#fff" stroke="#111" stroke-width="1"/>
<ellipse cx="334.8" cy="368.3" rx="0.8" ry="0.5" fill="#fff" stroke="#222" stroke-width="0.7"/>
<ellipse cx="343.2" cy="368.3" rx="0.8" ry="0.5" fill="#fff" stroke="#222" stroke-width="0.7"/>
<ellipse cx="339" cy="365.9" rx="0.8" ry="0.5" fill="#fff" stroke="#222" stroke-width="0.7"/>
<rect x="337.7" y="341.3" width="3.2" height="26.5" fill="#fff" stroke="none"/>
<line x1="337.6" y1="341.3" x2="337.6" y2="367.8" stroke="#111" stroke-width="1.4"/>
<line x1="341" y1="341.3" x2="341" y2="367.8" stroke="#111" stroke-width="1.4"/>
<polygon points="334.3,335.1 335.9,334.5 342.7,334.5 344.3,335.1 344.3,337.9 341.9,341.9 336.7,341.9 334.3,337.9" fill="#111" stroke="#111" stroke-width="0.6" stroke-linejoin="round"/>
<path d="M337.4 336.4 l1.9 1.5 l1.9 -1.5" stroke="#fff" stroke-width="0.9" fill="none"/>
<rect x="335.6" y="336.5" width="1" height="1.2" fill="#fff"/>
<rect x="342" y="336.5" width="1" height="1.2" fill="#fff"/>
<rect x="338.7" y="339.2" width="1.2" height="1.4" fill="#fff"/>
<polygon points="431.5,368.3 439,364 446.5,368.3 439,372.6" fill="#fff" stroke="#111" stroke-width="1.5"/>
<ellipse cx="439" cy="369.1" rx="2.4" ry="1.4" fill="#fff" stroke="#111" stroke-width="1"/>
<ellipse cx="434.8" cy="368.3" rx="0.8" ry="0.5" fill="#fff" stroke="#222" stroke-width="0.7"/>
<ellipse cx="443.2" cy="368.3" rx="0.8" ry="0.5" fill="#fff" stroke="#222" stroke-width="0.7"/>
<ellipse cx="439" cy="365.9" rx="0.8" ry="0.5" fill="#fff" stroke="#222" stroke-width="0.7"/>
<rect x="437.7" y="341.3" width="3.2" height="26.5" fill="#fff" stroke="none"/>
<line x1="437.6" y1="341.3" x2="437.6" y2="367.8" stroke="#111" stroke-width="1.4"/>
<line x1="441" y1="341.3" x2="441" y2="367.8" stroke="#111" stroke-width="1.4"/>
<polygon points="434.3,335.1 435.9,334.5 442.7,334.5 444.3,335.1 444.3,337.9 441.9,341.9 436.7,341.9 434.3,337.9" fill="#111" stroke="#111" stroke-width="0.6" stroke-linejoin="round"/>
<path d="M437.4 336.4 l1.9 1.5 l1.9 -1.5" stroke="#fff" stroke-width="0.9" fill="none"/>
<rect x="435.6" y="336.5" width="1" height="1.2" fill="#fff"/>
<rect x="442" y="336.5" width="1" height="1.2" fill="#fff"/>
<rect x="438.7" y="339.2" width="1.2" height="1.4" fill="#fff"/>
<polygon points="380.5,396 388,391.7 395.5,396 388,400.3" fill="#fff" stroke="#111" stroke-width="1.5"/>
<ellipse cx="388" cy="396.8" rx="2.4" ry="1.4" fill="#fff" stroke="#111" stroke-width="1"/>
<ellipse cx="383.8" cy="396" rx="0.8" ry="0.5" fill="#fff" stroke="#222" stroke-width="0.7"/>
<ellipse cx="392.2" cy="396" rx="0.8" ry="0.5" fill="#fff" stroke="#222" stroke-width="0.7"/>
<ellipse cx="388" cy="393.6" rx="0.8" ry="0.5" fill="#fff" stroke="#222" stroke-width="0.7"/>
<rect x="386.7" y="368" width="3.2" height="27.5" fill="#fff" stroke="none"/>
<line x1="386.6" y1="368" x2="386.6" y2="395.5" stroke="#111" stroke-width="1.4"/>
<line x1="390" y1="368" x2="390" y2="395.5" stroke="#111" stroke-width="1.4"/>
<polygon points="383.3,361.8 384.9,361.2 391.7,361.2 393.3,361.8 393.3,364.6 390.9,368.6 385.7,368.6 383.3,364.6" fill="#111" stroke="#111" stroke-width="0.6" stroke-linejoin="round"/>
<path d="M386.4 363.1 l1.9 1.5 l1.9 -1.5" stroke="#fff" stroke-width="0.9" fill="none"/>
<rect x="384.6" y="363.2" width="1" height="1.2" fill="#fff"/>
<rect x="391" y="363.2" width="1" height="1.2" fill="#fff"/>
<rect x="387.7" y="365.9" width="1.2" height="1.4" fill="#fff"/>
<polygon points="403.2,115.2 443.5,95.1 488.5,117.5 446.5,140.3" fill="#fff" stroke="none" stroke-width="0" stroke-linejoin="round"/>
<polygon points="447.4,130.3 493.6,105.2 488.5,117.5 446.5,140.3" fill="#fff" stroke="none" stroke-width="0" stroke-linejoin="round"/>
<path d="M403.2,101.2 L403.2,112.7 Q403.2,115.2 405.3,116.4 L446.5,140.3 L446.5,132.8" fill="none" stroke="#111" stroke-width="1.8" stroke-linejoin="round"/>
<path d="M413.3,96.1 L413.3,107.6 Q413.3,110.1 415.4,111.4 L457,134.6 L457,127.1" fill="none" stroke="#111" stroke-width="1.8" stroke-linejoin="round"/>
<path d="M423.3,91.1 L423.3,102.6 Q423.3,105.1 425.5,106.3 L467.5,128.9 L467.5,121.4" fill="none" stroke="#111" stroke-width="1.8" stroke-linejoin="round"/>
<path d="M433.4,86.1 L433.4,97.6 Q433.4,100.1 435.6,101.2 L478,123.2 L478,115.7" fill="none" stroke="#111" stroke-width="1.8" stroke-linejoin="round"/>
<path d="M443.5,81.1 L443.5,92.6 Q443.5,95.1 445.7,96.2 L488.5,117.5 L488.5,110" fill="none" stroke="#111" stroke-width="1.8" stroke-linejoin="round"/>
<line x1="403.2" y1="115.2" x2="443.5" y2="95.1" stroke="#111" stroke-width="1.8"/>
<line x1="413.4" y1="121.1" x2="454.1" y2="100.3" stroke="#111" stroke-width="1.8"/>
<line x1="423.5" y1="127" x2="464.6" y2="105.6" stroke="#111" stroke-width="1.8"/>
<line x1="433.7" y1="132.9" x2="475.2" y2="110.9" stroke="#111" stroke-width="1.8"/>
<line x1="443.9" y1="138.8" x2="485.8" y2="116.1" stroke="#111" stroke-width="1.8"/>
<line x1="446.5" y1="140.3" x2="488.5" y2="117.5" stroke="#111" stroke-width="1.8"/>
<line x1="397.7" y1="102.4" x2="446" y2="78.3" stroke="#111" stroke-width="3.6" stroke-linecap="round"/>
<line x1="397.7" y1="102.4" x2="446" y2="78.3" stroke="#fff" stroke-width="1.2" stroke-linecap="round"/>
<line x1="448" y1="130.4" x2="494.2" y2="105.3" stroke="#111" stroke-width="3.6" stroke-linecap="round"/>
<line x1="448" y1="130.4" x2="494.2" y2="105.3" stroke="#fff" stroke-width="1.2" stroke-linecap="round"/>
<line x1="396.3" y1="104.5" x2="396" y2="144" stroke="#111" stroke-width="1.4" stroke-dasharray="3.5 2.2"/>
<line x1="395" y1="182" x2="395" y2="201" stroke="#111" stroke-width="1.4" stroke-dasharray="3.5 2.2"/>
<line x1="446" y1="132.5" x2="445.5" y2="172" stroke="#111" stroke-width="1.4" stroke-dasharray="3.5 2.2"/>
<line x1="443" y1="210" x2="442.6" y2="228" stroke="#111" stroke-width="1.4" stroke-dasharray="3.5 2.2"/>
<line x1="494.3" y1="107" x2="495.5" y2="145" stroke="#111" stroke-width="1.4" stroke-dasharray="3.5 2.2"/>
<line x1="157.6" y1="192.2" x2="157.6" y2="216.2" stroke="#333" stroke-width="1"/>
<line x1="159.5" y1="165.2" x2="159.5" y2="215.2" stroke="#333" stroke-width="1"/>
<line x1="161.9" y1="146.2" x2="161.9" y2="213.9" stroke="#333" stroke-width="1"/>
<line x1="164.2" y1="134.2" x2="164.2" y2="212.7" stroke="#333" stroke-width="1"/>
<line x1="166.6" y1="129.2" x2="166.6" y2="211.4" stroke="#333" stroke-width="1"/>
<line x1="168.5" y1="157.2" x2="168.5" y2="210.4" stroke="#333" stroke-width="1"/>
<line x1="170.8" y1="170.2" x2="170.8" y2="209.1" stroke="#333" stroke-width="1"/>
<line x1="172.7" y1="187.2" x2="172.7" y2="208.1" stroke="#333" stroke-width="1"/>
<line x1="158.5" y1="206.2" x2="158.5" y2="215.7" stroke="#555" stroke-width="0.6"/>
<line x1="160.7" y1="184.2" x2="160.7" y2="214.6" stroke="#555" stroke-width="0.6"/>
<line x1="163" y1="170.2" x2="163" y2="213.3" stroke="#555" stroke-width="0.6"/>
<line x1="165.4" y1="148.2" x2="165.4" y2="212" stroke="#555" stroke-width="0.6"/>
<line x1="167.5" y1="176.2" x2="167.5" y2="210.9" stroke="#555" stroke-width="0.6"/>
<line x1="169.7" y1="194.2" x2="169.7" y2="209.7" stroke="#555" stroke-width="0.6"/>
<line x1="171.8" y1="201.2" x2="171.8" y2="208.6" stroke="#555" stroke-width="0.6"/>
<line x1="157.6" y1="216.7" x2="164.6" y2="220.5" stroke="#222" stroke-width="1"/>
<line x1="159.5" y1="215.7" x2="173.6" y2="223.3" stroke="#222" stroke-width="1"/>
<line x1="161.9" y1="214.4" x2="184.8" y2="226.8" stroke="#222" stroke-width="1"/>
<line x1="164.2" y1="213.2" x2="197.6" y2="231.2" stroke="#222" stroke-width="1"/>
<line x1="166.6" y1="211.9" x2="207.1" y2="233.7" stroke="#222" stroke-width="1"/>
<line x1="168.5" y1="210.9" x2="203.7" y2="229.9" stroke="#222" stroke-width="1"/>
<line x1="170.8" y1="209.6" x2="197.2" y2="223.9" stroke="#222" stroke-width="1"/>
<line x1="172.7" y1="208.6" x2="190.3" y2="218.1" stroke="#222" stroke-width="1"/>
<line x1="277.3" y1="127.6" x2="277.3" y2="151.9" stroke="#333" stroke-width="1"/>
<line x1="279.2" y1="100.6" x2="279.2" y2="150.9" stroke="#333" stroke-width="1"/>
<line x1="281.6" y1="81.6" x2="281.6" y2="149.6" stroke="#333" stroke-width="1"/>
<line x1="283.9" y1="69.6" x2="283.9" y2="148.3" stroke="#333" stroke-width="1"/>
<line x1="286.3" y1="64.6" x2="286.3" y2="147" stroke="#333" stroke-width="1"/>
<line x1="288.2" y1="92.6" x2="288.2" y2="146" stroke="#333" stroke-width="1"/>
<line x1="290.5" y1="105.6" x2="290.5" y2="144.8" stroke="#333" stroke-width="1"/>
<line x1="292.4" y1="122.6" x2="292.4" y2="143.8" stroke="#333" stroke-width="1"/>
<line x1="278.2" y1="141.6" x2="278.2" y2="151.4" stroke="#555" stroke-width="0.6"/>
<line x1="280.4" y1="119.6" x2="280.4" y2="150.2" stroke="#555" stroke-width="0.6"/>
<line x1="282.8" y1="105.6" x2="282.8" y2="149" stroke="#555" stroke-width="0.6"/>
<line x1="285.1" y1="83.6" x2="285.1" y2="147.7" stroke="#555" stroke-width="0.6"/>
<line x1="287.2" y1="111.6" x2="287.2" y2="146.5" stroke="#555" stroke-width="0.6"/>
<line x1="289.4" y1="129.6" x2="289.4" y2="145.4" stroke="#555" stroke-width="0.6"/>
<line x1="291.4" y1="136.6" x2="291.4" y2="144.3" stroke="#555" stroke-width="0.6"/>
<line x1="277.3" y1="152.4" x2="284.3" y2="156.2" stroke="#222" stroke-width="1"/>
<line x1="279.2" y1="151.4" x2="293.3" y2="159" stroke="#222" stroke-width="1"/>
<line x1="281.6" y1="150.1" x2="304.5" y2="162.4" stroke="#222" stroke-width="1"/>
<line x1="283.9" y1="148.8" x2="317.3" y2="166.9" stroke="#222" stroke-width="1"/>
<line x1="286.3" y1="147.5" x2="326.8" y2="169.4" stroke="#222" stroke-width="1"/>
<line x1="288.2" y1="146.5" x2="323.4" y2="165.5" stroke="#222" stroke-width="1"/>
<line x1="290.5" y1="145.3" x2="316.9" y2="159.5" stroke="#222" stroke-width="1"/>
<line x1="292.4" y1="144.3" x2="310" y2="153.8" stroke="#222" stroke-width="1"/>
<line x1="355" y1="85.3" x2="355" y2="110.1" stroke="#333" stroke-width="1"/>
<line x1="356.9" y1="58.3" x2="356.9" y2="109.1" stroke="#333" stroke-width="1"/>
<line x1="359.3" y1="39.3" x2="359.3" y2="107.8" stroke="#333" stroke-width="1"/>
<line x1="361.6" y1="27.3" x2="361.6" y2="106.6" stroke="#333" stroke-width="1"/>
<line x1="364" y1="22.3" x2="364" y2="105.3" stroke="#333" stroke-width="1"/>
<line x1="365.9" y1="50.3" x2="365.9" y2="104.3" stroke="#333" stroke-width="1"/>
<line x1="368.2" y1="63.3" x2="368.2" y2="103" stroke="#333" stroke-width="1"/>
<line x1="370.1" y1="80.3" x2="370.1" y2="102" stroke="#333" stroke-width="1"/>
<line x1="355.9" y1="99.3" x2="355.9" y2="109.6" stroke="#555" stroke-width="0.6"/>
<line x1="358.1" y1="77.3" x2="358.1" y2="108.5" stroke="#555" stroke-width="0.6"/>
<line x1="360.4" y1="63.3" x2="360.4" y2="107.2" stroke="#555" stroke-width="0.6"/>
<line x1="362.8" y1="41.3" x2="362.8" y2="105.9" stroke="#555" stroke-width="0.6"/>
<line x1="364.9" y1="69.3" x2="364.9" y2="104.8" stroke="#555" stroke-width="0.6"/>
<line x1="367.1" y1="87.3" x2="367.1" y2="103.6" stroke="#555" stroke-width="0.6"/>
<line x1="369.1" y1="94.3" x2="369.1" y2="102.5" stroke="#555" stroke-width="0.6"/>
<line x1="355" y1="110.6" x2="362" y2="114.4" stroke="#222" stroke-width="1"/>
<line x1="356.9" y1="109.6" x2="371" y2="117.2" stroke="#222" stroke-width="1"/>
<line x1="359.3" y1="108.3" x2="382.2" y2="120.7" stroke="#222" stroke-width="1"/>
<line x1="361.6" y1="107.1" x2="395" y2="125.1" stroke="#222" stroke-width="1"/>
<line x1="364" y1="105.8" x2="404.5" y2="127.6" stroke="#222" stroke-width="1"/>
<line x1="365.9" y1="104.8" x2="401.1" y2="123.8" stroke="#222" stroke-width="1"/>
<line x1="368.2" y1="103.5" x2="394.6" y2="117.8" stroke="#222" stroke-width="1"/>
<line x1="370.1" y1="102.5" x2="387.7" y2="112" stroke="#222" stroke-width="1"/>
<line x1="507.4" y1="71.3" x2="507.4" y2="95.8" stroke="#444" stroke-width="0.7"/>
<line x1="508.6" y1="44.3" x2="508.6" y2="96.5" stroke="#444" stroke-width="0.7"/>
<line x1="510" y1="36.3" x2="510" y2="97.3" stroke="#444" stroke-width="0.7"/>
<line x1="511" y1="29.3" x2="511" y2="97.9" stroke="#444" stroke-width="0.7"/>
<line x1="512.2" y1="40.3" x2="512.2" y2="98.6" stroke="#444" stroke-width="0.7"/>
<line x1="513.7" y1="58.3" x2="513.7" y2="99.4" stroke="#444" stroke-width="0.7"/>
<line x1="515.1" y1="66.3" x2="515.1" y2="100.2" stroke="#444" stroke-width="0.7"/>
<line x1="516.7" y1="78.3" x2="516.7" y2="101.2" stroke="#444" stroke-width="0.7"/>
<line x1="607" y1="126" x2="607" y2="150.6" stroke="#444" stroke-width="0.7"/>
<line x1="608.2" y1="99" x2="608.2" y2="151.3" stroke="#444" stroke-width="0.7"/>
<line x1="609.6" y1="91" x2="609.6" y2="152" stroke="#444" stroke-width="0.7"/>
<line x1="610.6" y1="84" x2="610.6" y2="152.6" stroke="#444" stroke-width="0.7"/>
<line x1="611.8" y1="95" x2="611.8" y2="153.3" stroke="#444" stroke-width="0.7"/>
<line x1="613.3" y1="113" x2="613.3" y2="154.1" stroke="#444" stroke-width="0.7"/>
<line x1="614.7" y1="121" x2="614.7" y2="154.9" stroke="#444" stroke-width="0.7"/>
<line x1="616.3" y1="133" x2="616.3" y2="155.8" stroke="#444" stroke-width="0.7"/>
<line x1="681.2" y1="168.4" x2="681.2" y2="192" stroke="#444" stroke-width="0.7"/>
<line x1="682.4" y1="141.4" x2="682.4" y2="192.7" stroke="#444" stroke-width="0.7"/>
<line x1="683.8" y1="133.4" x2="683.8" y2="193.4" stroke="#444" stroke-width="0.7"/>
<line x1="684.8" y1="126.4" x2="684.8" y2="194" stroke="#444" stroke-width="0.7"/>
<line x1="686" y1="137.4" x2="686" y2="194.7" stroke="#444" stroke-width="0.7"/>
<line x1="687.5" y1="155.4" x2="687.5" y2="195.5" stroke="#444" stroke-width="0.7"/>
<line x1="688.9" y1="163.4" x2="688.9" y2="196.3" stroke="#444" stroke-width="0.7"/>
<line x1="690.5" y1="175.4" x2="690.5" y2="197.2" stroke="#444" stroke-width="0.7"/>
<line x1="513" y1="98" x2="499.8" y2="105.1" stroke="#333" stroke-width="1"/>
<line x1="514.6" y1="99" x2="500.5" y2="106.6" stroke="#333" stroke-width="1"/>
<line x1="516.2" y1="100" x2="507.4" y2="104.7" stroke="#333" stroke-width="1"/>
<line x1="611.5" y1="154" x2="598.3" y2="161.1" stroke="#333" stroke-width="1"/>
<line x1="613.1" y1="155" x2="599" y2="162.6" stroke="#333" stroke-width="1"/>
<line x1="614.7" y1="156" x2="605.9" y2="160.7" stroke="#333" stroke-width="1"/>
<line x1="688" y1="196.5" x2="674.8" y2="203.6" stroke="#333" stroke-width="1"/>
<line x1="689.6" y1="197.5" x2="675.5" y2="205.1" stroke="#333" stroke-width="1"/>
<line x1="691.2" y1="198.5" x2="682.4" y2="203.2" stroke="#333" stroke-width="1"/>
<text transform="translate(402.4 52.9) skewX(-9)" x="0" y="0" font-family="'Liberation Sans',sans-serif" font-weight="bold" font-style="italic" font-size="12" textLength="10.2" lengthAdjust="spacingAndGlyphs" fill="#111" stroke="#111" stroke-width="0.45">14</text>
<text transform="translate(553.6 57.6) skewX(-9)" x="0" y="0" font-family="'Liberation Sans',sans-serif" font-weight="bold" font-style="italic" font-size="12" textLength="10.2" lengthAdjust="spacingAndGlyphs" fill="#111" stroke="#111" stroke-width="0.45">10</text>
<text transform="translate(569.4 114.1) skewX(-9)" x="0" y="0" font-family="'Liberation Sans',sans-serif" font-weight="bold" font-style="italic" font-size="12" textLength="10.2" lengthAdjust="spacingAndGlyphs" fill="#111" stroke="#111" stroke-width="0.45">14</text>
<text transform="translate(648.1 212.7) skewX(-9)" x="0" y="0" font-family="'Liberation Sans',sans-serif" font-weight="bold" font-style="italic" font-size="12" textLength="10.2" lengthAdjust="spacingAndGlyphs" fill="#111" stroke="#111" stroke-width="0.45">18</text>
<text transform="translate(656.8 284.6) skewX(-9)" x="0" y="0" font-family="'Liberation Sans',sans-serif" font-weight="bold" font-style="italic" font-size="12" textLength="10.2" lengthAdjust="spacingAndGlyphs" fill="#111" stroke="#111" stroke-width="0.45">13</text>
<text transform="translate(523.8 352.2) skewX(-9)" x="0" y="0" font-family="'Liberation Sans',sans-serif" font-weight="bold" font-style="italic" font-size="12" textLength="10.2" lengthAdjust="spacingAndGlyphs" fill="#111" stroke="#111" stroke-width="0.45">16</text>
<text transform="translate(453.4 381.6) skewX(-9)" x="0" y="0" font-family="'Liberation Sans',sans-serif" font-weight="bold" font-style="italic" font-size="12" textLength="10.2" lengthAdjust="spacingAndGlyphs" fill="#111" stroke="#111" stroke-width="0.45">12</text>
<path d="M649.5 211.5 q-1 2.8 -3 3.2 q6 1.6 13 0" fill="none" stroke="#111" stroke-width="1.2"/>
<path d="M658.5 283.5 q-1 2.8 -3 3.2 q6 1.6 13.2 -0.3" fill="none" stroke="#111" stroke-width="1.2"/>
<path d="M403 55.3 C398.5 63 401 70 407 76 L418.8 85.7" fill="none" stroke="#111" stroke-width="1.2"/>
<path d="M418.8 85.7 L411.5 78.2 L410.6 79.6 Z" fill="#fff" stroke="#111" stroke-width="1"/>
<path d="M559 60.7 C559 70 548 78 541 82" fill="none" stroke="#111" stroke-width="1.2"/>
<path d="M538 84 l5.5 -4.6 l1.6 3z" fill="#fff" stroke="#111" stroke-width="1.1"/>
<path d="M572.3 117 C572 126 566 133 554.5 138.8" fill="none" stroke="#111" stroke-width="1.2"/>
<path d="M554.5 138.8 L562.3 133.3 L563.3 135.2 Z" fill="#fff" stroke="#111" stroke-width="1"/>
<path d="M519.5 275.5 C519.5 298 526 314 532.5 326 C538 335 537.5 339 534.2 342" fill="none" stroke="#111" stroke-width="1.4"/>
<path d="M441.2 352.4 C452 353 459.5 360 459.7 370.5" fill="none" stroke="#111" stroke-width="1.2"/>
</svg>
</body></html>
